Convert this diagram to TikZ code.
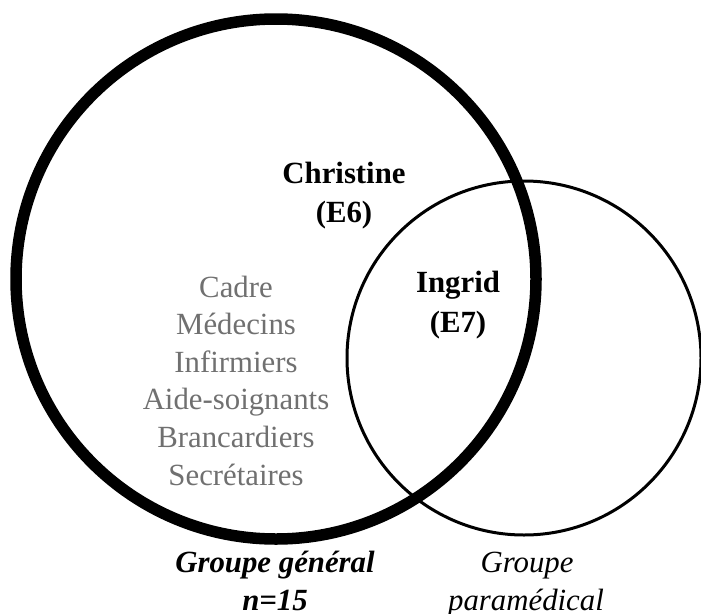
\documentclass[tikz,border=0pt]{standalone}
\usepackage{fontspec}
\setmainfont{Liberation Serif}
\definecolor{jobgray}{RGB}{112,112,112}
\begin{document}
\begin{tikzpicture}[x=1pt,y=-1pt,
  every node/.style={inner sep=0pt, outer sep=0pt},
  setring/.style={circle, draw, fill=none},
  basetxt/.style={anchor=base, font=\fontsize{30.8}{38}\selectfont},
  persontxt/.style={anchor=base, font=\fontsize{30.8}{38}\selectfont\bfseries},
  jobtxt/.style={basetxt, text=jobgray},
]
\useasboundingbox (0,0) rectangle (701,613);

% paramedical group (thin ring), drawn first so the thick ring lies on top
\node[setring, line width=3pt, minimum size=354pt] (para) at (524,358) {};
% general group (thick ring)
\node[setring, line width=11.5pt, minimum size=520pt] (gen) at (276,279) {};

% people
\node[persontxt] (chris) at (344,183) {Christine};
\node[persontxt] (chrisid) at (344,222) {(E6)};
\node[persontxt] (ingrid) at (458,292) {Ingrid};
\node[persontxt] (ingridid) at (458,332) {(E7)};

% professions of the general group
\foreach \t [count=\i] in {Cadre,Médecins,Infirmiers,Aide-soignants,Brancardiers,Secrétaires}
  \node[jobtxt] (job\i) at (236,{297+37.6*(\i-1)}) {\t};

% captions
\node[anchor=base, font=\fontsize{30.8}{38}\selectfont\bfseries\itshape] (gencap) at (275,572) {Groupe général};
\node[anchor=base, font=\fontsize{30.8}{38}\selectfont\bfseries\itshape] (genn) at (275,610) {n=15};
\node[anchor=base, font=\fontsize{30.8}{38}\selectfont\itshape] (paracap) at (527,572) {Groupe};
\node[anchor=base, font=\fontsize{30.8}{38}\selectfont\itshape] (paracap2) at (526,610) {paramédical};
\end{tikzpicture}
\end{document}
